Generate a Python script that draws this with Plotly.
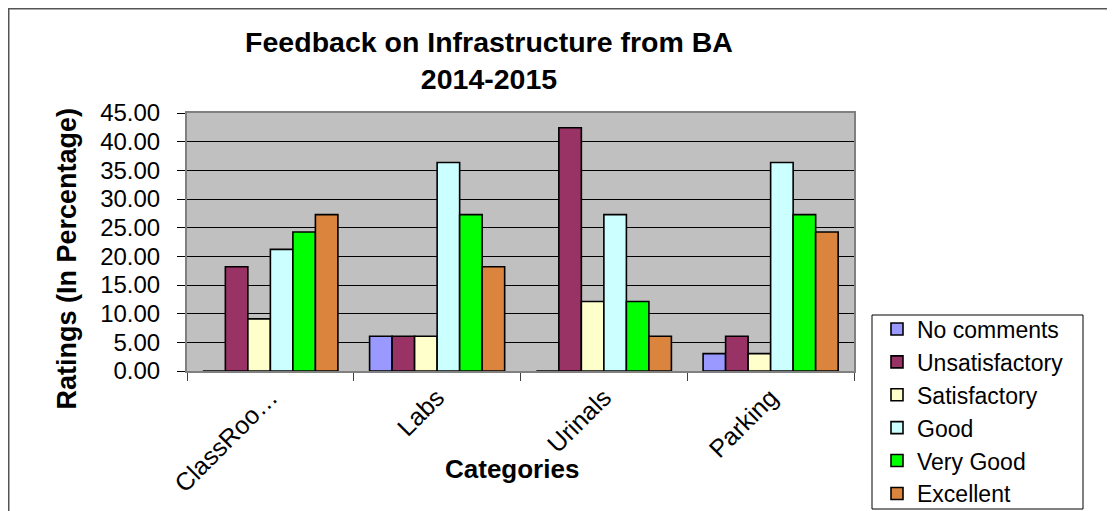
import plotly.graph_objects as go

categories = ["ClassRooms", "Labs", "Urinals", "Parking"]
tick_labels = ["ClassRoo…", "Labs", "Urinals", "Parking"]

series_names = ["No comments", "Unsatisfactory", "Satisfactory", "Good", "Very Good", "Excellent"]
no_comments = [0.00, 6.06, 0.00, 3.03]
unsatisfactory = [18.18, 6.06, 42.42, 6.06]
satisfactory = [9.09, 6.06, 12.12, 3.03]
good = [21.21, 36.36, 27.27, 36.36]
very_good = [24.24, 27.27, 12.12, 27.27]
excellent = [27.27, 18.18, 6.06, 24.24]
series_values = [no_comments, unsatisfactory, satisfactory, good, very_good, excellent]
colors = ["#9999FF", "#993366", "#FFFFCC", "#CCFFFF", "#00FF00", "#DB843D"]

y_ticks = [0, 5, 10, 15, 20, 25, 30, 35, 40, 45]

FONT = "Liberation Sans, Arial, sans-serif"

fig = go.Figure()
for name, vals, col in zip(series_names, series_values, colors):
    fig.add_trace(go.Bar(
        name=name, x=categories, y=vals,
        marker=dict(color=col, line=dict(color="black", width=1.6)),
    ))

# page body has an 8px margin; screen coords = figure coords + 8
OFF = 8
W, H = 1115 - OFF, 511 - OFF
L, T = 187 - OFF, 113 - OFF
R = W - (854 - OFF)
B = H - (371 - OFF)
pw, ph = W - L - R, H - T - B

def sx(x):
    return (x - OFF - L) / pw

def sy(y):
    return (H - B - (y - OFF)) / ph

fig.update_layout(
    width=W, height=H,
    margin=dict(l=L, r=R, t=T, b=B, pad=0, autoexpand=False),
    paper_bgcolor="white",
    plot_bgcolor="#C0C0C0",
    font=dict(family=FONT, color="black"),
    barmode="group",
    bargap=0.19,
    bargroupgap=0,
    title=dict(
        text="<b>Feedback on Infrastructure from BA<br>2014-2015</b>",
        font=dict(size=28.5, family=FONT, color="black"),
        x=(489 - OFF) / W, xanchor="center", xref="container",
        y=1 - 44 / H, yanchor="top", yref="container",
    ),
    xaxis=dict(
        tickvals=categories, ticktext=tick_labels,
        tickangle=-45, automargin=False,
        tickfont=dict(size=25, family=FONT, color="black"),
        ticks="outside", tickson="boundaries", ticklen=8, tickcolor="#404040", tickwidth=1,
        showline=True, linecolor="#808080", linewidth=2, mirror=True,
        showgrid=False,
    ),
    yaxis=dict(
        range=[0, 45], tickvals=y_ticks, tickformat=".2f", automargin=False,
        tickfont=dict(size=24, family=FONT, color="black"),
        ticks="outside", ticklen=8, tickcolor="black", tickwidth=1,
        ticklabelstandoff=12,
        showline=True, linecolor="#808080", linewidth=2, mirror=True,
        showgrid=True, gridcolor="black", gridwidth=1,
        zeroline=False,
    ),
    legend=dict(
        x=sx(877), y=sy(307.5), xanchor="left", yanchor="top",
        borderwidth=0, bgcolor="rgba(0,0,0,0)",
        font=dict(size=23, family=FONT, color="black"),
        traceorder="normal",
    ),
    showlegend=True,
)

fig.add_annotation(
    text="<b>Ratings (In Percentage)</b>", textangle=-90,
    xref="paper", yref="paper", x=sx(66.5), y=sy(259),
    xanchor="center", yanchor="middle", showarrow=False,
    font=dict(size=27, family=FONT, color="black"),
)
fig.add_annotation(
    text="<b>Categories</b>",
    xref="paper", yref="paper", x=sx(512), y=sy(469),
    xanchor="center", yanchor="middle", showarrow=False,
    font=dict(size=26, family=FONT, color="black"),
)

# legend frame
fig.add_shape(
    type="rect", xref="paper", yref="paper",
    x0=sx(872), x1=sx(1083), y0=sy(509), y1=sy(315),
    line=dict(color="black", width=1), fillcolor="rgba(0,0,0,0)",
)
# outer chart frame
fig.add_shape(
    type="rect", xref="paper", yref="paper",
    x0=sx(OFF + 0.5), x1=sx(1140), y0=sy(540), y1=sy(OFF + 0.5),
    line=dict(color="#555555", width=2), fillcolor="rgba(0,0,0,0)",
    layer="below",
)

fig.write_html("out.html")
